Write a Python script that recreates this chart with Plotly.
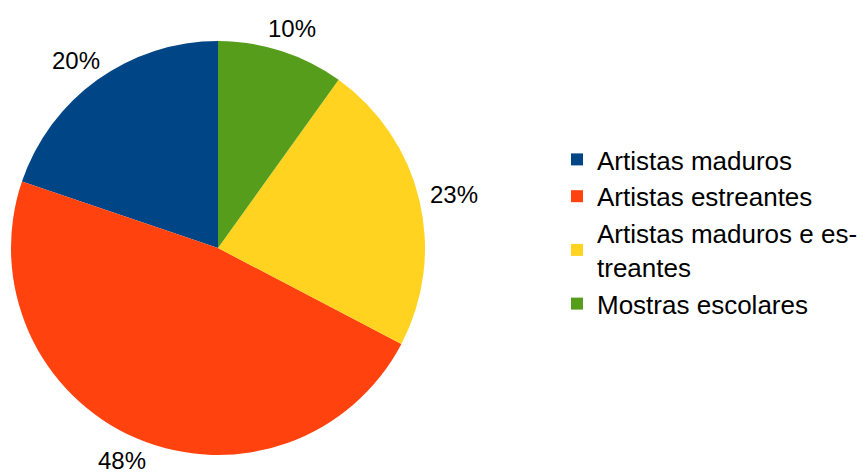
import math
import plotly.graph_objects as go

# Exhibition categories and their shares (%)
labels = [
    "Artistas maduros",
    "Artistas estreantes",
    "Artistas maduros e es-<br>treantes",
    "Mostras escolares",
]
values = [20, 48, 23, 10]
colors = ["#004586", "#ff420e", "#ffd320", "#579d1c"]

W, H = 863, 476
cx, cy, R = 218, 248, 207  # pie centre and radius in pixels

total = sum(values)
# plotly's counterclockwise layout ends the first slice at the rotation angle;
# shift it so the first slice starts at 12 o'clock instead
start_rotation = -360 * values[0] / total

fig = go.Figure(
    go.Pie(
        labels=labels,
        values=values,
        sort=False,
        direction="counterclockwise",
        rotation=start_rotation,
        marker=dict(colors=colors, line=dict(width=0)),
        textinfo="none",
        hoverinfo="skip",
        domain=dict(
            x=[(cx - R) / W, (cx + R) / W],
            y=[(H - cy - R) / H, (H - cy + R) / H],
        ),
    )
)

# Percentage labels: anchored on the slice bisector a little outside the rim,
# with the text box pushed outward so it hugs the anchor from the outside
label_size = 24
label_gap = 12
cum = 0.0
annotations = []
for v in values:
    mid = (cum + v / 2) / total
    cum += v
    phi = math.pi / 2 + 2 * math.pi * mid  # math angle, counterclockwise from +x
    ux, uy = math.cos(phi), math.sin(phi)
    text = f"{v}%"
    half_w = (0.556 * 2 + 0.889) * label_size / 2
    half_h = label_size / 2
    r = R + label_gap
    px = cx + r * ux + half_w * ux
    py = cy - r * uy - half_h * uy  # screen y grows downward
    annotations.append(
        dict(
            x=px / W,
            y=1 - py / H,
            xref="paper",
            yref="paper",
            text=text,
            showarrow=False,
            xanchor="center",
            yanchor="middle",
            font=dict(size=label_size, color="#000000"),
        )
    )

fig.update_layout(
    width=W,
    height=H,
    margin=dict(l=0, r=0, t=0, b=0),
    paper_bgcolor="white",
    plot_bgcolor="white",
    font=dict(family="Liberation Sans, Arial, sans-serif", color="#000000"),
    showlegend=True,
    legend=dict(
        x=1,
        y=1 - 232 / H,
        xanchor="right",
        yanchor="middle",
        font=dict(size=26, color="#000000"),
        bgcolor="rgba(0,0,0,0)",
        traceorder="normal",
    ),
    annotations=annotations,
)

fig.write_html("out.html")
